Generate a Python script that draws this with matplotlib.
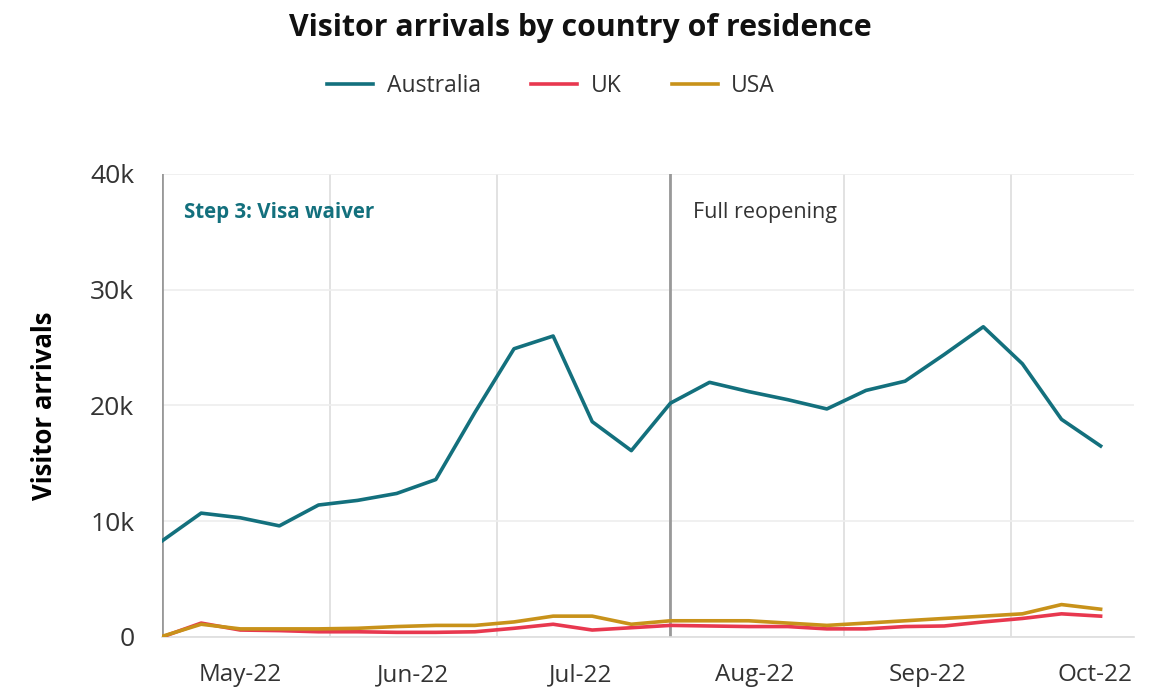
import numpy as np
import pandas as pd
import matplotlib
matplotlib.use("Agg")
import matplotlib.pyplot as plt
import matplotlib.dates as mdates
from matplotlib.ticker import FuncFormatter

plt.rcParams['font.family'] = ['Open Sans', 'DejaVu Sans']

# Weekly visitor arrivals (weeks starting Monday)
weeks = pd.date_range("2022-05-02", periods=25, freq="7D")
australia = [8300, 10700, 10300, 9600, 11400, 11800, 12400, 13600, 19400, 24900,
             26000, 18600, 16100, 20200, 22000, 21200, 20500, 19700, 21300, 22100,
             24400, 26800, 23600, 18800, 16500]
uk = [0, 1200, 600, 550, 450, 450, 400, 400, 450, 750,
      1100, 600, 800, 1000, 950, 900, 900, 700, 700, 900,
      950, 1300, 1600, 2000, 1800]
usa = [50, 1100, 700, 700, 700, 750, 900, 1000, 1000, 1300,
       1800, 1800, 1100, 1400, 1400, 1400, 1200, 1000, 1200, 1400,
       1600, 1800, 2000, 2800, 2400]

events = [("2022-05-02", "Step 3: Visa waiver"), ("2022-08-01", "Full reopening")]

c_aus = "#13707d"
c_uk = "#e8384f"
c_usa = "#c8921a"

fig = plt.figure(figsize=(11.6, 6.89), dpi=100)
ax = fig.add_axes([0.1397, 0.0755, 0.838, 0.672])

ax.plot(weeks, australia, color=c_aus, lw=2.6, label="Australia", zorder=3)
ax.plot(weeks, uk, color=c_uk, lw=2.6, label="UK", zorder=3)
ax.plot(weeks, usa, color=c_usa, lw=2.6, label="USA", zorder=4)

ax.set_ylim(0, 40000)
ax.set_xlim(pd.Timestamp("2022-05-02"), pd.Timestamp("2022-10-23"))
ax.set_yticks([0, 10000, 20000, 30000, 40000])
ax.yaxis.set_major_formatter(FuncFormatter(lambda v, p: "0" if v == 0 else f"{int(v/1000)}k"))

# month labels mid-month, gridlines at month start
ax.xaxis.set_major_locator(mdates.MonthLocator(bymonthday=16))
ax.xaxis.set_major_formatter(mdates.DateFormatter("%b-%y"))
ax.xaxis.set_minor_locator(mdates.MonthLocator(bymonthday=1))
ax.grid(axis="x", which="minor", color="#dddddd", lw=1.2)
ax.grid(axis="y", which="major", color="#eeeeee", lw=1.2)
ax.tick_params(axis="both", which="both", length=0)
ax.tick_params(axis="y", labelsize=19, colors="#333333", pad=20)
ax.tick_params(axis="x", labelsize=17.5, colors="#333333", pad=19)

for s in ["top", "right", "left"]:
    ax.spines[s].set_visible(False)
ax.spines["bottom"].set_color("#dddddd")
ax.spines["bottom"].set_linewidth(1.2)

# event lines
for (d, txt), col, wt, fs in zip(events, [c_aus, "#333333"], ["bold", "normal"], [14.8, 15.5]):
    dt = pd.Timestamp(d)
    ax.axvline(dt, color="#999999", lw=2, zorder=2)
    ax.text(dt + pd.Timedelta(days=4), 36700, txt, color=col, fontsize=fs,
            fontweight=wt, va="center", ha="left")

ax.set_ylabel("Visitor arrivals", fontsize=18.5, fontweight="bold", labelpad=23)

fig.text(0.5, 0.960, "Visitor arrivals by country of residence", ha="center",
         va="center", fontsize=21.8, fontweight="bold", color="#111111")
leg = fig.legend(loc="center", bbox_to_anchor=(0.475, 0.875), ncol=3, frameon=False,
                 fontsize=16.5, handlelength=2.0, columnspacing=2.2, handletextpad=0.6)
for t in leg.get_texts():
    t.set_color("#333333")

fig.savefig("out.png", dpi=100)
